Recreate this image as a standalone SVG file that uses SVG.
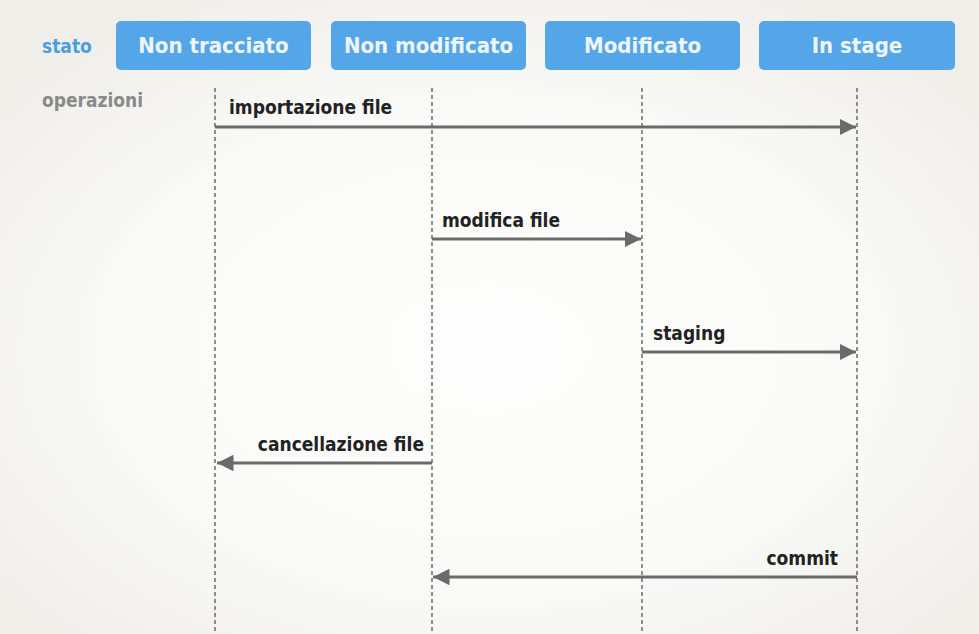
<svg xmlns="http://www.w3.org/2000/svg" width="979" height="634" viewBox="0 0 979 634">
<defs>
<radialGradient id="bg" cx="0.5" cy="0.55" r="0.65">
<stop offset="0" stop-color="#fefefe"/>
<stop offset="0.6" stop-color="#f9f9f7"/>
<stop offset="1" stop-color="#efeee9"/>
</radialGradient>
<marker id="ah" viewBox="0 0 10 10" refX="10" refY="5" markerWidth="5.5" markerHeight="5.5" orient="auto-start-reverse" markerUnits="strokeWidth">
<path d="M0,0 L10,5 L0,10 z" fill="#6a6a6a"/>
</marker>
<style>
.box{fill:#55a6e8;}
.bt{font-family:"DejaVu Sans Condensed","DejaVu Sans","Liberation Sans",sans-serif;font-stretch:condensed;font-size:22px;fill:#eef6fd;text-anchor:middle;font-weight:bold;}
.life{stroke:#555;stroke-width:1.3;stroke-dasharray:4 3;fill:none;}
.arr{stroke:#6a6a6a;stroke-width:3;fill:none;marker-end:url(#ah);}
.lbl{font-family:"DejaVu Sans Condensed","DejaVu Sans","Liberation Sans",sans-serif;font-stretch:condensed;font-size:19px;font-weight:bold;fill:#222;}
.side{font-family:"DejaVu Sans Condensed","DejaVu Sans","Liberation Sans",sans-serif;font-stretch:condensed;font-size:19px;font-weight:bold;}
</style>
</defs>
<rect width="979" height="634" fill="url(#bg)"/>
<text class="side" x="42" y="53" fill="#4b9ee0">stato</text>
<text class="side" x="42" y="107" fill="#8a8a8a">operazioni</text>
<g id="node-non-tracciato"><rect class="box" x="116" y="21" width="195" height="49" rx="5"/><text class="bt" x="213.5" y="53">Non tracciato</text></g>
<g id="node-non-modificato"><rect class="box" x="331" y="21" width="195" height="49" rx="5"/><text class="bt" x="428.5" y="53">Non modificato</text></g>
<g id="node-modificato"><rect class="box" x="545" y="21" width="195" height="49" rx="5"/><text class="bt" x="642.5" y="53">Modificato</text></g>
<g id="node-in-stage"><rect class="box" x="759" y="21" width="196" height="49" rx="5"/><text class="bt" x="857" y="53">In stage</text></g>
<g id="lifelines">
<line class="life" x1="215" y1="88" x2="215" y2="634"/>
<line class="life" x1="432" y1="88" x2="432" y2="634"/>
<line class="life" x1="642" y1="88" x2="642" y2="634"/>
<line class="life" x1="857" y1="88" x2="857" y2="634"/>
</g>
<g id="connectors">
<line class="arr" x1="215" y1="127" x2="856" y2="127"/>
<line class="arr" x1="432" y1="239" x2="641" y2="239"/>
<line class="arr" x1="642" y1="352" x2="856" y2="352"/>
<line class="arr" x1="432" y1="463" x2="217" y2="463"/>
<line class="arr" x1="857" y1="577" x2="433" y2="577"/>
</g>
<g id="labels">
<text class="lbl" x="229" y="114">importazione file</text>
<text class="lbl" x="442" y="227">modifica file</text>
<text class="lbl" x="653" y="340">staging</text>
<text class="lbl" x="424" y="451" text-anchor="end">cancellazione file</text>
<text class="lbl" x="838" y="565" text-anchor="end">commit</text>
</g>
</svg>
